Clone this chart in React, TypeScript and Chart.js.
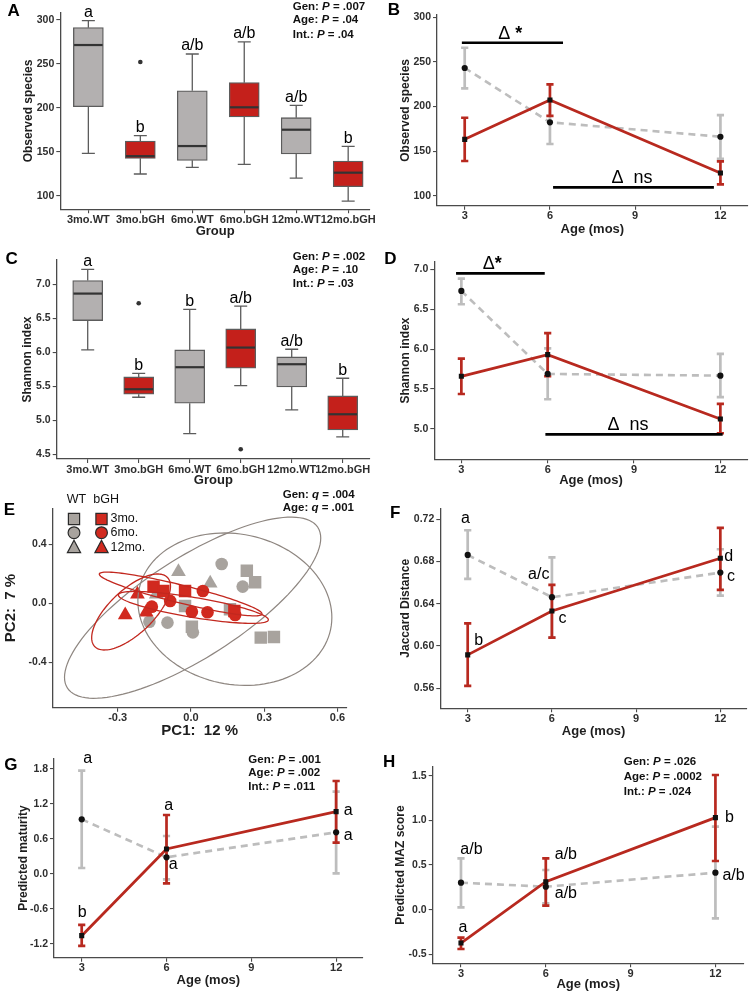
import React, { useEffect, useRef } from 'react';
import { Chart, registerables } from 'chart.js';

Chart.register(...registerables);

/* ================= DATA ================= */
const groups = ['3mo.WT', '3mo.bGH', '6mo.WT', '6mo.bGH', '12mo.WT', '12mo.bGH'];
const groupGenotype = ['WT', 'bGH', 'WT', 'bGH', 'WT', 'bGH'];
const groupPositions = [1, 2, 3, 4, 5, 6];
const ages = [3, 6, 12];
const ageTicks = [3, 6, 9, 12];
const statNames = ['Gen:', 'Age:', 'Int.:'];

/* A: observed species boxplot */
const obsMin = [148.2, 124.7, 132.3, 135.7, 120.0, 93.9];
const obsQ1 = [201.3, 142.5, 140.2, 189.6, 147.4, 110.2];
const obsMedian = [271.5, 145.0, 156.5, 200.6, 175.1, 126.2];
const obsQ3 = [291.3, 162.2, 219.5, 228.7, 188.8, 139.5];
const obsMax = [299.2, 168.3, 261.3, 275.0, 202.8, 156.2];
const obsOutlierGroup = [2];
const obsOutlierValue = [252.2];
const obsGroupLetters = ['a', 'b', 'a/b', 'a/b', 'a/b', 'b'];
const obsTicks = [100, 150, 200, 250, 300];
const obsBoxP = ['.007', '.04', '.04'];

/* B: observed species by age */
const obsWT = [243.2, 182.3, 166.1];
const obsWTLow = [220.4, 158.0, 141.2];
const obsWTHigh = [265.9, 206.0, 190.4];
const obsBGH = [163.2, 207.3, 125.4];
const obsBGHLow = [138.9, 189.4, 112.8];
const obsBGHHigh = [187.4, 224.9, 138.5];
const obsDeltaText = ['Δ *', 'Δ  ns'];
const obsDeltaFrom = [2.9, 6.11];
const obsDeltaTo = [6.46, 11.77];
const obsDeltaY = [271.5, 109.4];
const obsDeltaTextX = [4.6, 8.89];

/* C: Shannon boxplot */
const shMin = [6.034, 5.338, 4.804, 5.51, 5.152, 4.755];
const shQ1 = [6.466, 5.382, 5.25, 5.765, 5.49, 4.858];
const shMedian = [6.863, 5.456, 5.78, 6.069, 5.824, 5.088];
const shQ3 = [7.054, 5.637, 6.034, 6.343, 5.931, 5.358];
const shMax = [7.22, 5.69, 6.632, 6.68, 6.044, 5.618];
const shOutlierGroup = [2, 4];
const shOutlierValue = [6.72, 4.574];
const shGroupLetters = ['a', 'b', 'b', 'a/b', 'a/b', 'b'];
const shBoxTicks = [4.5, 5.0, 5.5, 6.0, 6.5, 7.0];
const shBoxP = ['.002', '.10', '.03'];

/* D: Shannon by age */
const shWT = [6.729, 5.689, 5.668];
const shWTLow = [6.562, 5.372, 5.4];
const shWTHigh = [6.883, 6.01, 5.94];
const shBGH = [5.66, 5.931, 5.125];
const shBGHLow = [5.438, 5.66, 4.946];
const shBGHHigh = [5.88, 6.2, 5.313];
const shLineTicks = [5.0, 5.5, 6.0, 6.5, 7.0];
const shDeltaText = ['Δ*', 'Δ  ns'];
const shDeltaFrom = [2.816, 5.92];
const shDeltaTo = [5.898, 12.08];
const shDeltaY = [6.95, 4.933];
const shDeltaTextX = [4.07, 8.79];

/* E: PCoA */
const pcWT3x = [0.229, 0.263, -0.024, 0.16, 0.004, 0.286, 0.34];
const pcWT3y = [0.221, 0.142, -0.018, -0.041, -0.159, -0.233, -0.228];
const pcWT6x = [0.126, 0.212, -0.17, -0.096, 0.008];
const pcWT6y = [0.266, 0.113, -0.125, -0.131, -0.197];
const pcWT12x = [-0.051, 0.079, -0.142];
const pcWT12y = [0.214, 0.136, 0.061];
const pcBGH3x = [-0.153, -0.113, -0.024, 0.178];
const pcBGH3y = [0.113, 0.083, 0.083, -0.052];
const pcBGH6x = [0.049, -0.085, -0.16, 0.004, 0.068, 0.181];
const pcBGH6y = [0.083, 0.016, -0.023, -0.057, -0.061, -0.079];
const pcBGH12x = [-0.219, -0.269, -0.183];
const pcBGH12y = [0.061, -0.079, -0.061];
const ellGenotype = ['WT', 'WT', 'bGH', 'bGH', 'bGH'];
const ellCx = [0.007, 0.18, -0.042, 0.01, -0.245];
const ellCy = [-0.03, -0.04, 0.063, -0.028, -0.059];
const ellUx = [0.513, 0.392, 0.333, 0.307, 0.149];
const ellUy = [0.544, -0.138, -0.136, -0.085, 0.234];
const ellVx = [-0.11, -0.064, -0.0088, -0.0067, 0.062];
const ellVy = [0.285, -0.498, -0.059, -0.067, -0.108];
const pcXTicks = [-0.3, 0.0, 0.3, 0.6];
const pcYTicks = [-0.4, 0.0, 0.4];
const pcStatNames = ['Gen:', 'Age:'];
const pcQ = ['.004', '.001'];
const legendGenotypes = ['WT', 'bGH'];
const legendAges = ['3mo.', '6mo.', '12mo.'];

/* F: Jaccard */
const jacWT = [0.6862, 0.6462, 0.6695];
const jacWTLow = [0.6635, 0.608, 0.6477];
const jacWTHigh = [0.7096, 0.684, 0.6916];
const jacBGH = [0.5916, 0.6332, 0.6831];
const jacBGHLow = [0.5622, 0.608, 0.6531];
const jacBGHHigh = [0.6215, 0.6578, 0.7118];
const jacTicks = [0.56, 0.6, 0.64, 0.68, 0.72];
const jacLetters = ['a', 'a/c', 'b', 'c', 'd', 'c'];
const jacLetterX = [2.92, 5.53, 3.39, 6.38, 12.3, 12.38];
const jacLetterY = [0.721, 0.668, 0.605, 0.626, 0.685, 0.666];

/* G: maturity */
const matWT = [0.937, 0.286, 0.714];
const matWTLow = [0.103, -0.091, 0.011];
const matWTHigh = [1.771, 0.651, 1.411];
const matBGH = [-1.057, 0.429, 1.069];
const matBGHLow = [-1.234, -0.16, 0.537];
const matBGHHigh = [-0.874, 1.011, 1.594];
const matTicks = [-1.2, -0.6, 0.0, 0.6, 1.2, 1.8];
const matLetters = ['a', 'b', 'a', 'a', 'a', 'a'];
const matLetterX = [3.21, 3.02, 6.08, 6.24, 12.43, 12.43];
const matLetterY = [1.97, -0.657, 1.166, 0.166, 1.086, 0.657];
const matP = ['.001', '.002', '.011'];

/* H: MAZ */
const mazWT = [0.302, 0.257, 0.414];
const mazWTLow = [0.026, 0.07, -0.097];
const mazWTHigh = [0.575, 0.444, 0.929];
const mazBGH = [-0.373, 0.313, 1.03];
const mazBGHLow = [-0.44, 0.045, 0.545];
const mazBGHHigh = [-0.313, 0.575, 1.507];
const mazTicks = [-0.5, 0.0, 0.5, 1.0, 1.5];
const mazLetters = ['a/b', 'a', 'a/b', 'a/b', 'b', 'a/b'];
const mazLetterX = [3.37, 3.07, 6.71, 6.71, 12.5, 12.64];
const mazLetterY = [0.675, -0.198, 0.612, 0.183, 1.034, 0.377];
const mazP = ['.026', '.0002', '.024'];

/* ================= STYLE ================= */
const FONT = "'Liberation Sans', Arial, Helvetica, sans-serif";
const AXIS_C = '#4a4a4a';
const TICK_C = '#2e2e2e';
const TITLE_C = '#1e1e1e';
const TEXT_C = '#111111';
const GRAY_FILL = '#b3b0b0';
const RED_FILL = '#c4201b';
const BOX_EDGE = '#5c5c5c';
const MEDIAN_C = '#333333';
const LINE_RED = '#b8291f';
const LINE_GRAY = '#bdbdbd';
const PT_C = '#111111';
const SC_GRAY = '#a8a39e';
const SC_RED = '#d12a1f';
const ELL_GRAY = '#8e8680';
const ELL_RED = '#c2281f';

const fmt0 = (v: number) => String(Math.round(v));
const fmt1 = (v: number) => (Math.abs(v) < 1e-9 ? 0 : v).toFixed(1);
const fmt2 = (v: number) => v.toFixed(2);
const groupFmt = (v: number) => groups[Math.round(v) - 1] || '';

function makeScales(g: any, s: any) {
  const yLH = s.yTitleSize * 1.2;
  const xLH = s.xTitleSize * 1.2;
  const grid = { display: true, drawOnChartArea: false, drawTicks: true, tickLength: 4, color: AXIS_C, lineWidth: 1.1, offset: false };
  const border = { display: true, color: AXIS_C, width: 1.3 };
  return {
    x: {
      type: 'linear', position: 'bottom', min: s.xMin, max: s.xMax, offset: false, bounds: 'data',
      afterBuildTicks: (sc: any) => { sc.ticks = s.xTicks.map((v: number) => ({ value: v })); },
      afterFit: (sc: any) => { sc.height = g.h - g.b; },
      ticks: { callback: (v: any) => s.xFmt(Number(v)), font: { family: FONT, size: 11, weight: 'bold' }, color: TICK_C, padding: 0, maxRotation: 0, minRotation: 0, autoSkip: false },
      grid, border,
      title: { display: true, text: s.xTitle, color: TITLE_C, font: { family: FONT, size: s.xTitleSize, weight: 'bold' }, padding: { top: 0, bottom: g.h - s.xTitleY - xLH / 2 } },
    },
    y: {
      type: 'linear', position: 'left', min: s.yMin, max: s.yMax, bounds: 'data',
      afterBuildTicks: (sc: any) => { sc.ticks = s.yTicks.map((v: number) => ({ value: v })); },
      afterFit: (sc: any) => { sc.width = g.l; },
      ticks: { callback: (v: any) => s.yFmt(Number(v)), font: { family: FONT, size: 10.5, weight: 'bold' }, color: TICK_C, padding: 2, autoSkip: false },
      grid, border,
      title: { display: true, text: s.yTitle, color: TITLE_C, font: { family: FONT, size: s.yTitleSize, weight: 'bold' }, padding: { top: s.yTitleX - yLH / 2, bottom: 0 } },
    },
  };
}

function baseOptions(g: any, scales: any) {
  return {
    responsive: false, animation: false, devicePixelRatio: 1, events: [],
    layout: { padding: { left: 0, top: g.t, right: g.w - g.r, bottom: 0 } },
    plugins: { legend: { display: false }, tooltip: { enabled: false } },
    scales,
  };
}

function drawPanelLetter(ctx: any, letter: string, x: number, y: number) {
  ctx.save();
  ctx.font = `bold 17px ${FONT}`;
  ctx.fillStyle = '#000';
  ctx.textAlign = 'center';
  ctx.textBaseline = 'middle';
  ctx.fillText(letter, x, y);
  ctx.restore();
}

function drawStats(ctx: any, x: number, ys: number[], names: string[], sym: string, vals: string[]) {
  ctx.save();
  ctx.fillStyle = TEXT_C;
  ctx.textAlign = 'left';
  ctx.textBaseline = 'middle';
  names.forEach((nm, i) => {
    let cx = x;
    const y = ys[i];
    ctx.font = `bold 11.5px ${FONT}`;
    ctx.fillText(nm + ' ', cx, y);
    cx += ctx.measureText(nm + ' ').width;
    ctx.font = `italic bold 11.5px ${FONT}`;
    ctx.fillText(sym, cx, y);
    cx += ctx.measureText(sym).width;
    ctx.font = `bold 11.5px ${FONT}`;
    ctx.fillText(' = ' + vals[i], cx, y);
  });
  ctx.restore();
}

/* ---------- box panels ---------- */
function boxConfig(g: any, d: any) {
  const plugin = {
    id: 'box' + d.letter,
    beforeDatasetsDraw(chart: any) {
      const { ctx } = chart;
      const x = chart.scales.x, y = chart.scales.y;
      ctx.save();
      ctx.strokeStyle = BOX_EDGE;
      ctx.lineWidth = 1.3;
      groups.forEach((_, i) => {
        const px = x.getPixelForValue(groupPositions[i]);
        const yMax = y.getPixelForValue(d.max[i]);
        const yMin = y.getPixelForValue(d.min[i]);
        ctx.beginPath();
        ctx.moveTo(px, yMax); ctx.lineTo(px, y.getPixelForValue(d.q3[i]));
        ctx.moveTo(px, y.getPixelForValue(d.q1[i])); ctx.lineTo(px, yMin);
        ctx.moveTo(px - 6.5, yMax); ctx.lineTo(px + 6.5, yMax);
        ctx.moveTo(px - 6.5, yMin); ctx.lineTo(px + 6.5, yMin);
        ctx.stroke();
      });
      ctx.restore();
    },
    afterDatasetsDraw(chart: any) {
      const { ctx } = chart;
      const x = chart.scales.x, y = chart.scales.y;
      ctx.save();
      ctx.strokeStyle = MEDIAN_C;
      ctx.lineWidth = 2.2;
      groups.forEach((_, i) => {
        const px = x.getPixelForValue(groupPositions[i]);
        const py = y.getPixelForValue(d.med[i]);
        ctx.beginPath();
        ctx.moveTo(px - 14.3, py); ctx.lineTo(px + 14.3, py);
        ctx.stroke();
      });
      ctx.restore();
    },
    afterDraw(chart: any) {
      const { ctx } = chart;
      const x = chart.scales.x, y = chart.scales.y;
      ctx.save();
      ctx.font = `16px ${FONT}`;
      ctx.fillStyle = '#000';
      ctx.textAlign = 'center';
      ctx.textBaseline = 'alphabetic';
      groups.forEach((_, i) => {
        ctx.fillText(d.letters[i], x.getPixelForValue(groupPositions[i]), y.getPixelForValue(d.max[i]) - 3.5);
      });
      ctx.restore();
      drawStats(ctx, d.statX, d.statY, statNames, 'P', d.p);
      drawPanelLetter(ctx, d.letter, d.letterX, d.letterY);
    },
  };
  return {
    type: 'bar',
    data: {
      datasets: [
        {
          type: 'bar',
          data: groups.map((_, i) => ({ x: groupPositions[i], y: [d.q1[i], d.q3[i]] })),
          backgroundColor: groupGenotype.map((gt) => (gt === 'bGH' ? RED_FILL : GRAY_FILL)),
          borderColor: BOX_EDGE, borderWidth: 1.3, borderSkipped: false, barThickness: 30,
        },
        {
          type: 'scatter',
          data: d.outGroup.map((gi: number, k: number) => ({ x: gi, y: d.outVal[k] })),
          pointRadius: 2.3, pointBackgroundColor: '#333', pointBorderWidth: 0, showLine: false,
        },
      ],
    },
    options: baseOptions(g, makeScales(g, d.scale)),
    plugins: [plugin],
  };
}

/* ---------- line panels ---------- */
function drawErrorBars(ctx: any, x: any, y: any, lo: number[], hi: number[], color: string) {
  ctx.save();
  ctx.strokeStyle = color;
  ctx.lineWidth = 2.7;
  ages.forEach((a, i) => {
    const px = x.getPixelForValue(a);
    const y1 = y.getPixelForValue(lo[i]);
    const y2 = y.getPixelForValue(hi[i]);
    ctx.beginPath();
    ctx.moveTo(px, y1); ctx.lineTo(px, y2);
    ctx.moveTo(px - 3.6, y1); ctx.lineTo(px + 3.6, y1);
    ctx.moveTo(px - 3.6, y2); ctx.lineTo(px + 3.6, y2);
    ctx.stroke();
  });
  ctx.restore();
}

function lineConfig(g: any, d: any) {
  const plugin = {
    id: 'line' + d.letter,
    beforeDatasetsDraw(chart: any) {
      const { ctx } = chart;
      drawErrorBars(ctx, chart.scales.x, chart.scales.y, d.wtLo, d.wtHi, LINE_GRAY);
      drawErrorBars(ctx, chart.scales.x, chart.scales.y, d.bgLo, d.bgHi, LINE_RED);
    },
    afterDraw(chart: any) {
      const { ctx } = chart;
      const x = chart.scales.x, y = chart.scales.y;
      if (d.deltaText) {
        ctx.save();
        d.deltaText.forEach((t: string, i: number) => {
          const py = y.getPixelForValue(d.deltaY[i]);
          ctx.strokeStyle = '#000';
          ctx.lineWidth = 2.7;
          ctx.beginPath();
          ctx.moveTo(x.getPixelForValue(d.deltaFrom[i]), py);
          ctx.lineTo(x.getPixelForValue(d.deltaTo[i]), py);
          ctx.stroke();
          ctx.fillStyle = '#000';
          ctx.textBaseline = 'alphabetic';
          const parts = t.split('*');
          ctx.font = `18px ${FONT}`;
          const w = ctx.measureText(parts[0]).width;
          ctx.font = `bold 18px ${FONT}`;
          const wStar = parts.length > 1 ? ctx.measureText('*').width : 0;
          const cx = x.getPixelForValue(d.deltaTextX[i]) - (w + wStar) / 2;
          ctx.textAlign = 'left';
          ctx.font = `18px ${FONT}`;
          ctx.fillText(parts[0], cx, py - 4);
          if (parts.length > 1) {
            ctx.font = `bold 18px ${FONT}`;
            ctx.fillText('*', cx + w, py - 4);
          }
        });
        ctx.restore();
      }
      if (d.letters) {
        ctx.save();
        ctx.font = `16px ${FONT}`;
        ctx.fillStyle = '#000';
        ctx.textAlign = 'center';
        ctx.textBaseline = 'middle';
        d.letters.forEach((t: string, i: number) => {
          ctx.fillText(t, x.getPixelForValue(d.letterXs[i]), y.getPixelForValue(d.letterYs[i]));
        });
        ctx.restore();
      }
      if (d.p) drawStats(ctx, d.statX, d.statY, statNames, 'P', d.p);
      drawPanelLetter(ctx, d.letter, d.letterX, d.letterY);
    },
  };
  return {
    type: 'line',
    data: {
      datasets: [
        {
          label: 'bGH', data: ages.map((a, i) => ({ x: a, y: d.bg[i] })),
          borderColor: LINE_RED, borderWidth: 2.8, pointStyle: 'rect', pointRadius: 3.6,
          pointBackgroundColor: PT_C, pointBorderWidth: 0, tension: 0, fill: false,
        },
        {
          label: 'WT', data: ages.map((a, i) => ({ x: a, y: d.wt[i] })),
          borderColor: LINE_GRAY, borderWidth: 2.6, borderDash: [7, 5], pointStyle: 'circle', pointRadius: 3.1,
          pointBackgroundColor: PT_C, pointBorderWidth: 0, tension: 0, fill: false,
        },
      ],
    },
    options: baseOptions(g, makeScales(g, d.scale)),
    plugins: [plugin],
  };
}

/* ---------- scatter panel ---------- */
function drawShape(ctx: any, shape: string, x: number, y: number, fill: string) {
  ctx.beginPath();
  if (shape === 'rect') ctx.rect(x - 5.6, y - 5.6, 11.2, 11.2);
  else if (shape === 'circle') ctx.arc(x, y, 5.9, 0, Math.PI * 2);
  else { ctx.moveTo(x, y - 7); ctx.lineTo(x + 6.6, y + 5.3); ctx.lineTo(x - 6.6, y + 5.3); ctx.closePath(); }
  ctx.fillStyle = fill;
  ctx.fill();
  ctx.strokeStyle = '#2a2a2a';
  ctx.lineWidth = 1.2;
  ctx.stroke();
}

function scatterConfig(g: any) {
  const mk = (xs: number[], ys: number[]) => xs.map((v, i) => ({ x: v, y: ys[i] }));
  const ds = (data: any, shape: string, color: string, r: number) => ({
    data, pointStyle: shape, pointRadius: r, pointBackgroundColor: color, pointBorderWidth: 0, showLine: false,
  });
  const shapes = ['rect', 'circle', 'triangle'];
  const plugin = {
    id: 'pcoa',
    afterDatasetsDraw(chart: any) {
      const { ctx } = chart;
      const x = chart.scales.x, y = chart.scales.y;
      ctx.save();
      ellGenotype.forEach((gt, k) => {
        ctx.strokeStyle = gt === 'WT' ? ELL_GRAY : ELL_RED;
        ctx.lineWidth = gt === 'WT' ? 1.2 : 1.3;
        ctx.beginPath();
        for (let s = 0; s <= 120; s++) {
          const t = (s / 120) * Math.PI * 2;
          const dx = ellCx[k] + ellUx[k] * Math.cos(t) + ellVx[k] * Math.sin(t);
          const dy = ellCy[k] + ellUy[k] * Math.cos(t) + ellVy[k] * Math.sin(t);
          const px = x.getPixelForValue(dx), py = y.getPixelForValue(dy);
          if (s === 0) ctx.moveTo(px, py); else ctx.lineTo(px, py);
        }
        ctx.closePath();
        ctx.stroke();
      });
      ctx.restore();
    },
    afterDraw(chart: any) {
      const { ctx } = chart;
      ctx.save();
      ctx.font = `12.5px ${FONT}`;
      ctx.fillStyle = '#111';
      ctx.textAlign = 'left';
      ctx.textBaseline = 'middle';
      ctx.fillText(legendGenotypes[0], 66.7, 20);
      ctx.fillText(legendGenotypes[1], 93.3, 20);
      const rowY = [39, 52.7, 67.3];
      legendAges.forEach((lab, i) => {
        drawShape(ctx, shapes[i], 74, rowY[i], SC_GRAY);
        drawShape(ctx, shapes[i], 101.5, rowY[i], SC_RED);
        ctx.fillStyle = '#111';
        ctx.font = `12.5px ${FONT}`;
        ctx.fillText(lab, 110.5, rowY[i]);
      });
      ctx.restore();
      drawStats(ctx, 282.7, [14.5, 28], pcStatNames, 'q', pcQ);
      drawPanelLetter(ctx, 'E', 9.5, 30);
    },
  };
  const scaleSpec = {
    xMin: -0.566, xMax: 0.638, xTicks: pcXTicks, xFmt: fmt1, xTitle: 'PC1:  12 %', xTitleY: 251, xTitleSize: 15,
    yMin: -0.708, yMax: 0.644, yTicks: pcYTicks, yFmt: fmt1, yTitle: 'PC2:  7 %', yTitleX: 10.5, yTitleSize: 15,
  };
  return {
    type: 'scatter',
    data: {
      datasets: [
        ds(mk(pcBGH3x, pcBGH3y), 'rect', SC_RED, 8.8),
        ds(mk(pcBGH6x, pcBGH6y), 'circle', SC_RED, 6.3),
        ds(mk(pcBGH12x, pcBGH12y), 'triangle', SC_RED, 8.5),
        ds(mk(pcWT3x, pcWT3y), 'rect', SC_GRAY, 8.8),
        ds(mk(pcWT6x, pcWT6y), 'circle', SC_GRAY, 6.3),
        ds(mk(pcWT12x, pcWT12y), 'triangle', SC_GRAY, 8.5),
      ],
    },
    options: baseOptions(g, makeScales(g, scaleSpec)),
    plugins: [plugin],
  };
}

/* ================= PANELS ================= */
const ageScale = (xMin: number, xMax: number, xTitleY: number) => ({
  xMin, xMax, xTicks: ageTicks, xFmt: fmt0, xTitle: 'Age (mos)', xTitleY, xTitleSize: 13,
});

const PANELS = [
  {
    geo: { x: 0, y: 0, w: 377, h: 250, l: 60.3, t: 12.7, r: 370, b: 209.3 },
    make: (g: any) => boxConfig(g, {
      letter: 'A', letterX: 13.7, letterY: 11.3,
      min: obsMin, q1: obsQ1, med: obsMedian, q3: obsQ3, max: obsMax,
      outGroup: obsOutlierGroup, outVal: obsOutlierValue, letters: obsGroupLetters,
      statX: 292.7, statY: [6.8, 20.2, 34.5], p: obsBoxP,
      scale: {
        xMin: 0.46, xMax: 6.42, xTicks: groupPositions, xFmt: groupFmt, xTitle: 'Group', xTitleY: 231.7, xTitleSize: 13,
        yMin: 84.5, yMax: 308.3, yTicks: obsTicks, yFmt: fmt0, yTitle: 'Observed species', yTitleX: 28.3, yTitleSize: 12,
      },
    }),
  },
  {
    geo: { x: 377, y: 0, w: 377, h: 250, l: 60, t: 15, r: 370.7, b: 205.7 },
    make: (g: any) => lineConfig(g, {
      letter: 'B', letterX: 17, letterY: 10.5,
      wt: obsWT, wtLo: obsWTLow, wtHi: obsWTHigh, bg: obsBGH, bgLo: obsBGHLow, bgHi: obsBGHHigh,
      deltaText: obsDeltaText, deltaFrom: obsDeltaFrom, deltaTo: obsDeltaTo, deltaY: obsDeltaY, deltaTextX: obsDeltaTextX,
      scale: { ...ageScale(2.025, 12.96, 229.3), yMin: 88.8, yMax: 302.6, yTicks: obsTicks, yFmt: fmt0, yTitle: 'Observed species', yTitleX: 28.3, yTitleSize: 12 },
    }),
  },
  {
    geo: { x: 0, y: 250, w: 377, h: 245, l: 56.7, t: 10, r: 370, b: 209 },
    make: (g: any) => boxConfig(g, {
      letter: 'C', letterX: 11.7, letterY: 9.2,
      min: shMin, q1: shQ1, med: shMedian, q3: shQ3, max: shMax,
      outGroup: shOutlierGroup, outVal: shOutlierValue, letters: shGroupLetters,
      statX: 292.7, statY: [6.7, 20, 34.3], p: shBoxP,
      scale: {
        xMin: 0.392, xMax: 6.535, xTicks: groupPositions, xFmt: groupFmt, xTitle: 'Group', xTitleY: 230, xTitleSize: 13,
        yMin: 4.43, yMax: 7.357, yTicks: shBoxTicks, yFmt: fmt1, yTitle: 'Shannon index', yTitleX: 28, yTitleSize: 12,
      },
    }),
  },
  {
    geo: { x: 377, y: 250, w: 377, h: 245, l: 57.3, t: 11.7, r: 370.7, b: 209.3 },
    make: (g: any) => lineConfig(g, {
      letter: 'D', letterX: 13.3, letterY: 9.2,
      wt: shWT, wtLo: shWTLow, wtHi: shWTHigh, bg: shBGH, bgLo: shBGHLow, bgHi: shBGHHigh,
      deltaText: shDeltaText, deltaFrom: shDeltaFrom, deltaTo: shDeltaTo, deltaY: shDeltaY, deltaTextX: shDeltaTextX,
      scale: { ...ageScale(2.06, 12.95, 230), yMin: 4.62, yMax: 7.095, yTicks: shLineTicks, yFmt: fmt1, yTitle: 'Shannon index', yTitleX: 28.3, yTitleSize: 12 },
    }),
  },
  {
    geo: { x: 0, y: 480, w: 377, h: 265, l: 52.7, t: 28.3, r: 346.7, b: 227.7 },
    make: (g: any) => scatterConfig(g),
  },
  {
    geo: { x: 377, y: 495, w: 377, h: 250, l: 63.3, t: 13.3, r: 370, b: 213.3 },
    make: (g: any) => lineConfig(g, {
      letter: 'F', letterX: 18.3, letterY: 18.3,
      wt: jacWT, wtLo: jacWTLow, wtHi: jacWTHigh, bg: jacBGH, bgLo: jacBGHLow, bgHi: jacBGHHigh,
      letters: jacLetters, letterXs: jacLetterX, letterYs: jacLetterY,
      scale: { ...ageScale(2.024, 12.95, 236.7), yMin: 0.541, yMax: 0.7304, yTicks: jacTicks, yFmt: fmt2, yTitle: 'Jaccard Distance', yTitleX: 28.3, yTitleSize: 12 },
    }),
  },
  {
    geo: { x: 0, y: 745, w: 377, h: 250, l: 54, t: 13.3, r: 362.7, b: 212.7 },
    make: (g: any) => lineConfig(g, {
      letter: 'G', letterX: 10.8, letterY: 20,
      wt: matWT, wtLo: matWTLow, wtHi: matWTHigh, bg: matBGH, bgLo: matBGHLow, bgHi: matBGHHigh,
      letters: matLetters, letterXs: matLetterX, letterYs: matLetterY,
      statX: 248.3, statY: [15, 28.3, 42.3], p: matP,
      scale: { ...ageScale(2.02, 12.94, 235), yMin: -1.435, yMax: 1.983, yTicks: matTicks, yFmt: fmt1, yTitle: 'Predicted maturity', yTitleX: 23.3, yTitleSize: 12 },
    }),
  },
  {
    geo: { x: 377, y: 745, w: 377, h: 250, l: 55.7, t: 21.7, r: 366.7, b: 218.3 },
    make: (g: any) => lineConfig(g, {
      letter: 'H', letterX: 12.2, letterY: 17.8,
      wt: mazWT, wtLo: mazWTLow, wtHi: mazWTHigh, bg: mazBGH, bgLo: mazBGHLow, bgHi: mazBGHHigh,
      letters: mazLetters, letterXs: mazLetterX, letterYs: mazLetterY,
      statX: 246.7, statY: [17.3, 32.3, 46.7], p: mazP,
      scale: { ...ageScale(2.0, 13.0, 239.3), yMin: -0.6, yMax: 1.6, yTicks: mazTicks, yFmt: fmt1, yTitle: 'Predicted MAZ score', yTitleX: 23.3, yTitleSize: 12 },
    }),
  },
];

export default function App() {
  const refs = useRef<(HTMLCanvasElement | null)[]>([]);
  useEffect(() => {
    const charts = PANELS.map((p, i) => new Chart(refs.current[i] as any, p.make(p.geo) as any));
    return () => charts.forEach((c) => c.destroy());
  }, []);
  return (
    <div style={{ position: 'absolute', left: 0, top: 0, width: 754, height: 995, background: '#ffffff', overflow: 'hidden' }}>
      {PANELS.map((p, i) => (
        <canvas
          key={i}
          ref={(el) => { refs.current[i] = el; }}
          width={p.geo.w}
          height={p.geo.h}
          style={{ position: 'absolute', left: p.geo.x, top: p.geo.y, width: p.geo.w, height: p.geo.h }}
        />
      ))}
    </div>
  );
}
